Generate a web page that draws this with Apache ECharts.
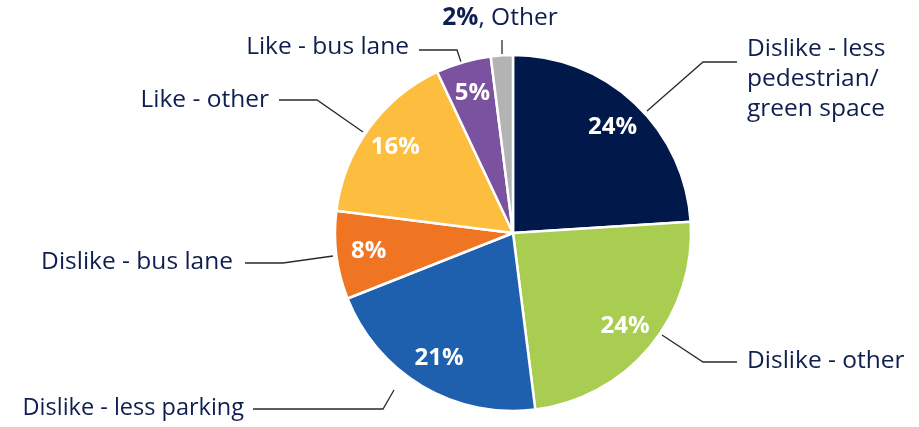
<!DOCTYPE html>
<html>
<head>
<meta charset="utf-8">
<script src="https://cdn.jsdelivr.net/npm/echarts@6/dist/echarts.min.js"></script>
<style>
html,body{margin:0;padding:0;background:#fff;}
#chart{width:919px;height:427px;}
</style>
</head>
<body>
<div id="chart"></div>
<script>
const categories = [
  "Dislike - less\npedestrian/\ngreen space",
  "Dislike - other",
  "Dislike - less parking",
  "Dislike - bus lane",
  "Like - other",
  "Like - bus lane",
  "Other"
];
const values = [24, 24, 21, 8, 16, 5, 2];
const colors = ["#00184A", "#A9CD50", "#1F60AE", "#F07522", "#FDBE3F", "#7A52A0", "#B3B3B3"];

// label layout (pixel positions of outside labels and their leader lines)
const labelPlaces = [
  {x: 747, y: 79, align: "left", fs: 24.5, line: [[647, 111], [703, 62], [737, 62]]},
  {x: 747, y: 361, align: "left", fs: 24.5, line: [[662, 335], [703, 362], [737, 362]]},
  {x: 244, y: 408, align: "right", fs: 23.5, line: [[394, 390], [383, 409], [253, 409]]},
  {x: 233, y: 262, align: "right", fs: 24.5, line: [[333, 256], [283, 263], [245, 263]]},
  {x: 269, y: 100, align: "right", fs: 24.5, line: [[363, 132], [317, 100], [279, 100]]},
  {x: 409, y: 47, align: "right", fs: 24.5, line: [[461, 62], [457, 50], [419, 50]]},
  {x: 500, y: 18, align: "center", fs: 24.5, line: [[502, 54], [502, 40], [502, 40]]}
];

const TEXT = "#0D1E4F";
const FONT = "'Open Sans', sans-serif";
const FS = 24.5;
const center = [513, 233];
const R = 178;

const data = categories.map((c, i) => ({
  name: c, value: values[i],
  itemStyle: {color: colors[i]},
  label: {fontSize: labelPlaces[i].fs}
}));

const chart = echarts.init(document.getElementById('chart'), null, {renderer: 'canvas'});
chart.setOption({
  animation: false,
  series: [
    {
      type: 'pie',
      center: center,
      radius: [0, R],
      startAngle: 90,
      clockwise: true,
      data: data,
      itemStyle: {borderColor: '#fff', borderWidth: 2.5},
      label: {
        show: true,
        position: 'outside',
        color: TEXT,
        fontFamily: FONT,
        fontSize: FS,
        lineHeight: 30,
        formatter: function (p) {
          if (p.dataIndex === 6) return '{b|' + p.value + '%}{n|, ' + p.name + '}';
          return p.name;
        },
        rich: {
          b: {fontWeight: 'bold', fontSize: FS, color: TEXT, fontFamily: FONT},
          n: {fontSize: FS, color: TEXT, fontFamily: FONT}
        }
      },
      labelLine: {show: true, lineStyle: {color: '#2a2a2a', width: 1.3}},
      labelLayout: function (p) {
        const L = labelPlaces[p.dataIndex];
        return {x: L.x, y: L.y, align: L.align, verticalAlign: 'middle', labelLinePoints: L.line};
      },
      emphasis: {disabled: true}
    },
    {
      type: 'pie',
      center: center,
      radius: [R * 0.6, R],
      startAngle: 90,
      clockwise: true,
      silent: true,
      data: categories.map((c, i) => ({name: c, value: values[i]})),
      itemStyle: {color: 'rgba(0,0,0,0)', borderWidth: 0},
      label: {
        show: true,
        position: 'inside',
        color: '#fff',
        fontFamily: FONT,
        fontWeight: 'bold',
        fontSize: 24,
        formatter: function (p) { return p.dataIndex === 6 ? '' : p.value + '%'; }
      },
      labelLine: {show: false},
      emphasis: {disabled: true}
    }
  ]
});
</script>
</body>
</html>
